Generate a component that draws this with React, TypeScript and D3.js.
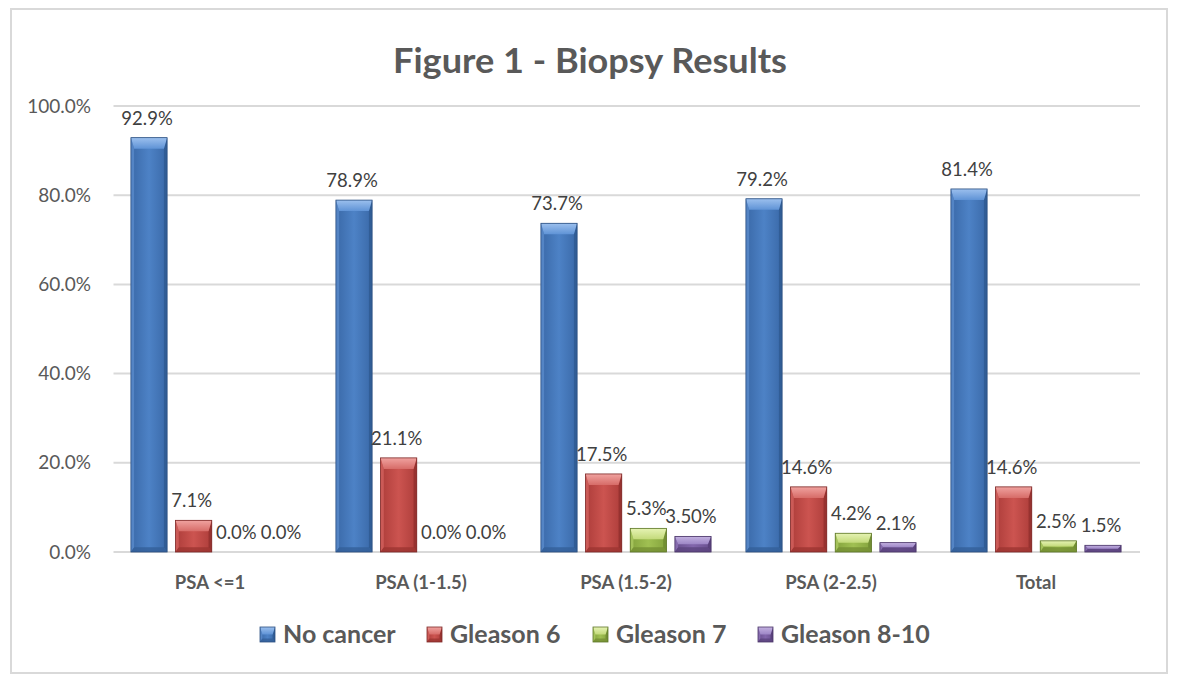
import React from "react";
import * as d3 from "d3";

const categories = ["PSA <=1", "PSA (1-1.5)", "PSA (1.5-2)", "PSA (2-2.5)", "Total"];
const seriesNames = ["No cancer", "Gleason 6", "Gleason 7", "Gleason 8-10"];
const noCancer = [92.9, 78.9, 73.7, 79.2, 81.4];
const gleason6 = [7.1, 21.1, 17.5, 14.6, 14.6];
const gleason7 = [0.0, 0.0, 5.3, 4.2, 2.5];
const gleason810 = [0.0, 0.0, 3.5, 2.1, 1.5];
const gleason810Labels = ["0.0%", "0.0%", "3.50%", "2.1%", "1.5%"];
const yTicks = [0, 20, 40, 60, 80, 100];

const W = 1180;
const H = 688;

const palettes = [
  { face: "#4d82c6", faceDark: "#3a69a8", top: "#9cc0ee", topDark: "#5f93d6", left: "#5a8bcb", right: "#2f5a92", bottom: "#335f98", stroke: "#2b4f80" },
  { face: "#cc5450", faceDark: "#ad3d3a", top: "#f0a3a0", topDark: "#d76c68", left: "#d2625e", right: "#93302e", bottom: "#9c3431", stroke: "#7e2a28" },
  { face: "#a0c052", faceDark: "#84a33d", top: "#e6f3b4", topDark: "#c3da7a", left: "#abc962", right: "#6f8b31", bottom: "#748f33", stroke: "#5e7629" },
  { face: "#8266ab", faceDark: "#684f8e", top: "#c3b1e0", topDark: "#9d86c6", left: "#8d72b5", right: "#574079", bottom: "#5b437e", stroke: "#4a3668" },
];

function BevelRect({ x, y, w, h, si, b0 = 8, idp }: any) {
  if (h <= 0.5) return null;
  const p = palettes[si];
  const bt = Math.min(b0 + 3, h / 2, w / 2);
  const b = Math.min(b0 * 0.4, h / 2, w / 2);
  const bb = Math.min(b0 * 0.6, h / 2);
  const pts = (arr: number[][]) => arr.map((q) => q.join(",")).join(" ");
  return (
    <g>
      <rect x={x} y={y} width={w} height={h} fill={`url(#face${idp}${si})`} />
      <polygon points={pts([[x, y], [x + b, y + bt], [x + b, y + h - bb], [x, y + h]])} fill={p.left} opacity={0.8} />
      <polygon points={pts([[x + w, y], [x + w, y + h], [x + w - b, y + h - bb], [x + w - b, y + bt]])} fill={p.right} opacity={0.85} />
      <polygon points={pts([[x, y + h], [x + b, y + h - bb], [x + w - b, y + h - bb], [x + w, y + h]])} fill={p.bottom} opacity={0.8} />
      <polygon points={pts([[x, y], [x + w, y], [x + w - b, y + bt], [x + b, y + bt]])} fill={`url(#top${idp}${si})`} />
      <rect x={x} y={y} width={w} height={h} fill="none" stroke={p.stroke} strokeWidth={0.8} />
    </g>
  );
}

export default function App() {
  const series = [noCancer, gleason6, gleason7, gleason810];
  const fmt = (v: number) => d3.format(".1f")(v) + "%";
  const labels = [noCancer.map(fmt), gleason6.map(fmt), gleason7.map(fmt), gleason810Labels];

  const x0 = d3.scaleBand<string>().domain(categories).range([113.5, 1138.5]).paddingInner(0.17).paddingOuter(0.085);
  const x1 = d3.scaleBand<string>().domain(seriesNames).range([0, x0.bandwidth()]).paddingInner(0.19).paddingOuter(0);
  const y = d3.scaleLinear().domain([0, 100]).range([552, 106]);

  const font = "Lato, 'Open Sans', sans-serif";
  const legendX = [260, 427, 593, 758];

  return (
    <svg width={W} height={H} style={{ position: "absolute", left: 0, top: 0, background: "#fff" }}>
      <defs>
        {["c", "l"].map((k) =>
          palettes.map((p, i) => (
            <React.Fragment key={k + i}>
              <linearGradient id={`face${k}${i}`} x1="0" x2="1" y1="0" y2="0">
                <stop offset="0" stopColor={p.faceDark} />
                <stop offset="0.5" stopColor={p.face} />
                <stop offset="1" stopColor={p.faceDark} />
              </linearGradient>
              <linearGradient id={`top${k}${i}`} x1="0" x2="0" y1="0" y2="1">
                <stop offset="0" stopColor={p.top} />
                <stop offset="1" stopColor={p.topDark} />
              </linearGradient>
            </React.Fragment>
          ))
        )}
      </defs>
      <rect x={0} y={0} width={W} height={H} fill="#fff" />
      <rect x={11} y={9} width={1156} height={664} fill="#fff" stroke="#d9d9d9" strokeWidth={2} />

      <text x={590} y={73} textAnchor="middle" fontFamily={font} fontWeight={700} fontSize={35} fill="#595959" textLength={394} lengthAdjust="spacingAndGlyphs">
        Figure 1 - Biopsy Results
      </text>

      {yTicks.map((t) => (
        <g key={t}>
          <line x1={113.5} x2={1140} y1={y(t)} y2={y(t)} stroke="#d9d9d9" strokeWidth={2} />
          <text x={91} y={y(t)} dy="0.35em" textAnchor="end" fontFamily={font} fontSize={19} fill="#595959">
            {d3.format(".1f")(t) + "%"}
          </text>
        </g>
      ))}

      {categories.map((c, ci) => (
        <g key={c} transform={`translate(${x0(c)},0)`}>
          {series.map((s, si) => {
            const bx = x1(seriesNames[si])!;
            const top = y(s[ci]);
            return (
              <g key={si}>
                <BevelRect x={bx} y={top} w={x1.bandwidth()} h={y(0) - top} si={si} idp="c" />
                <text x={bx + x1.bandwidth() / 2 - 2} y={top - 13} textAnchor="middle" fontFamily={font} fontSize={18.5} fill="#404040">
                  {labels[si][ci]}
                </text>
              </g>
            );
          })}
          <text x={x0.bandwidth() / 2 - (ci === 0 ? 6 : 0)} y={589} textAnchor="middle" fontFamily={font} fontWeight={700} fontSize={18.5} fill="#595959">
            {c}
          </text>
        </g>
      ))}

      {seriesNames.map((n, si) => (
        <g key={n}>
          <BevelRect x={legendX[si]} y={627} w={15} h={15} si={si} b0={6} idp="l" />
          <text x={legendX[si] + 23} y={643} fontFamily={font} fontWeight={700} fontSize={25} fill="#595959">
            {n}
          </text>
        </g>
      ))}
    </svg>
  );
}
